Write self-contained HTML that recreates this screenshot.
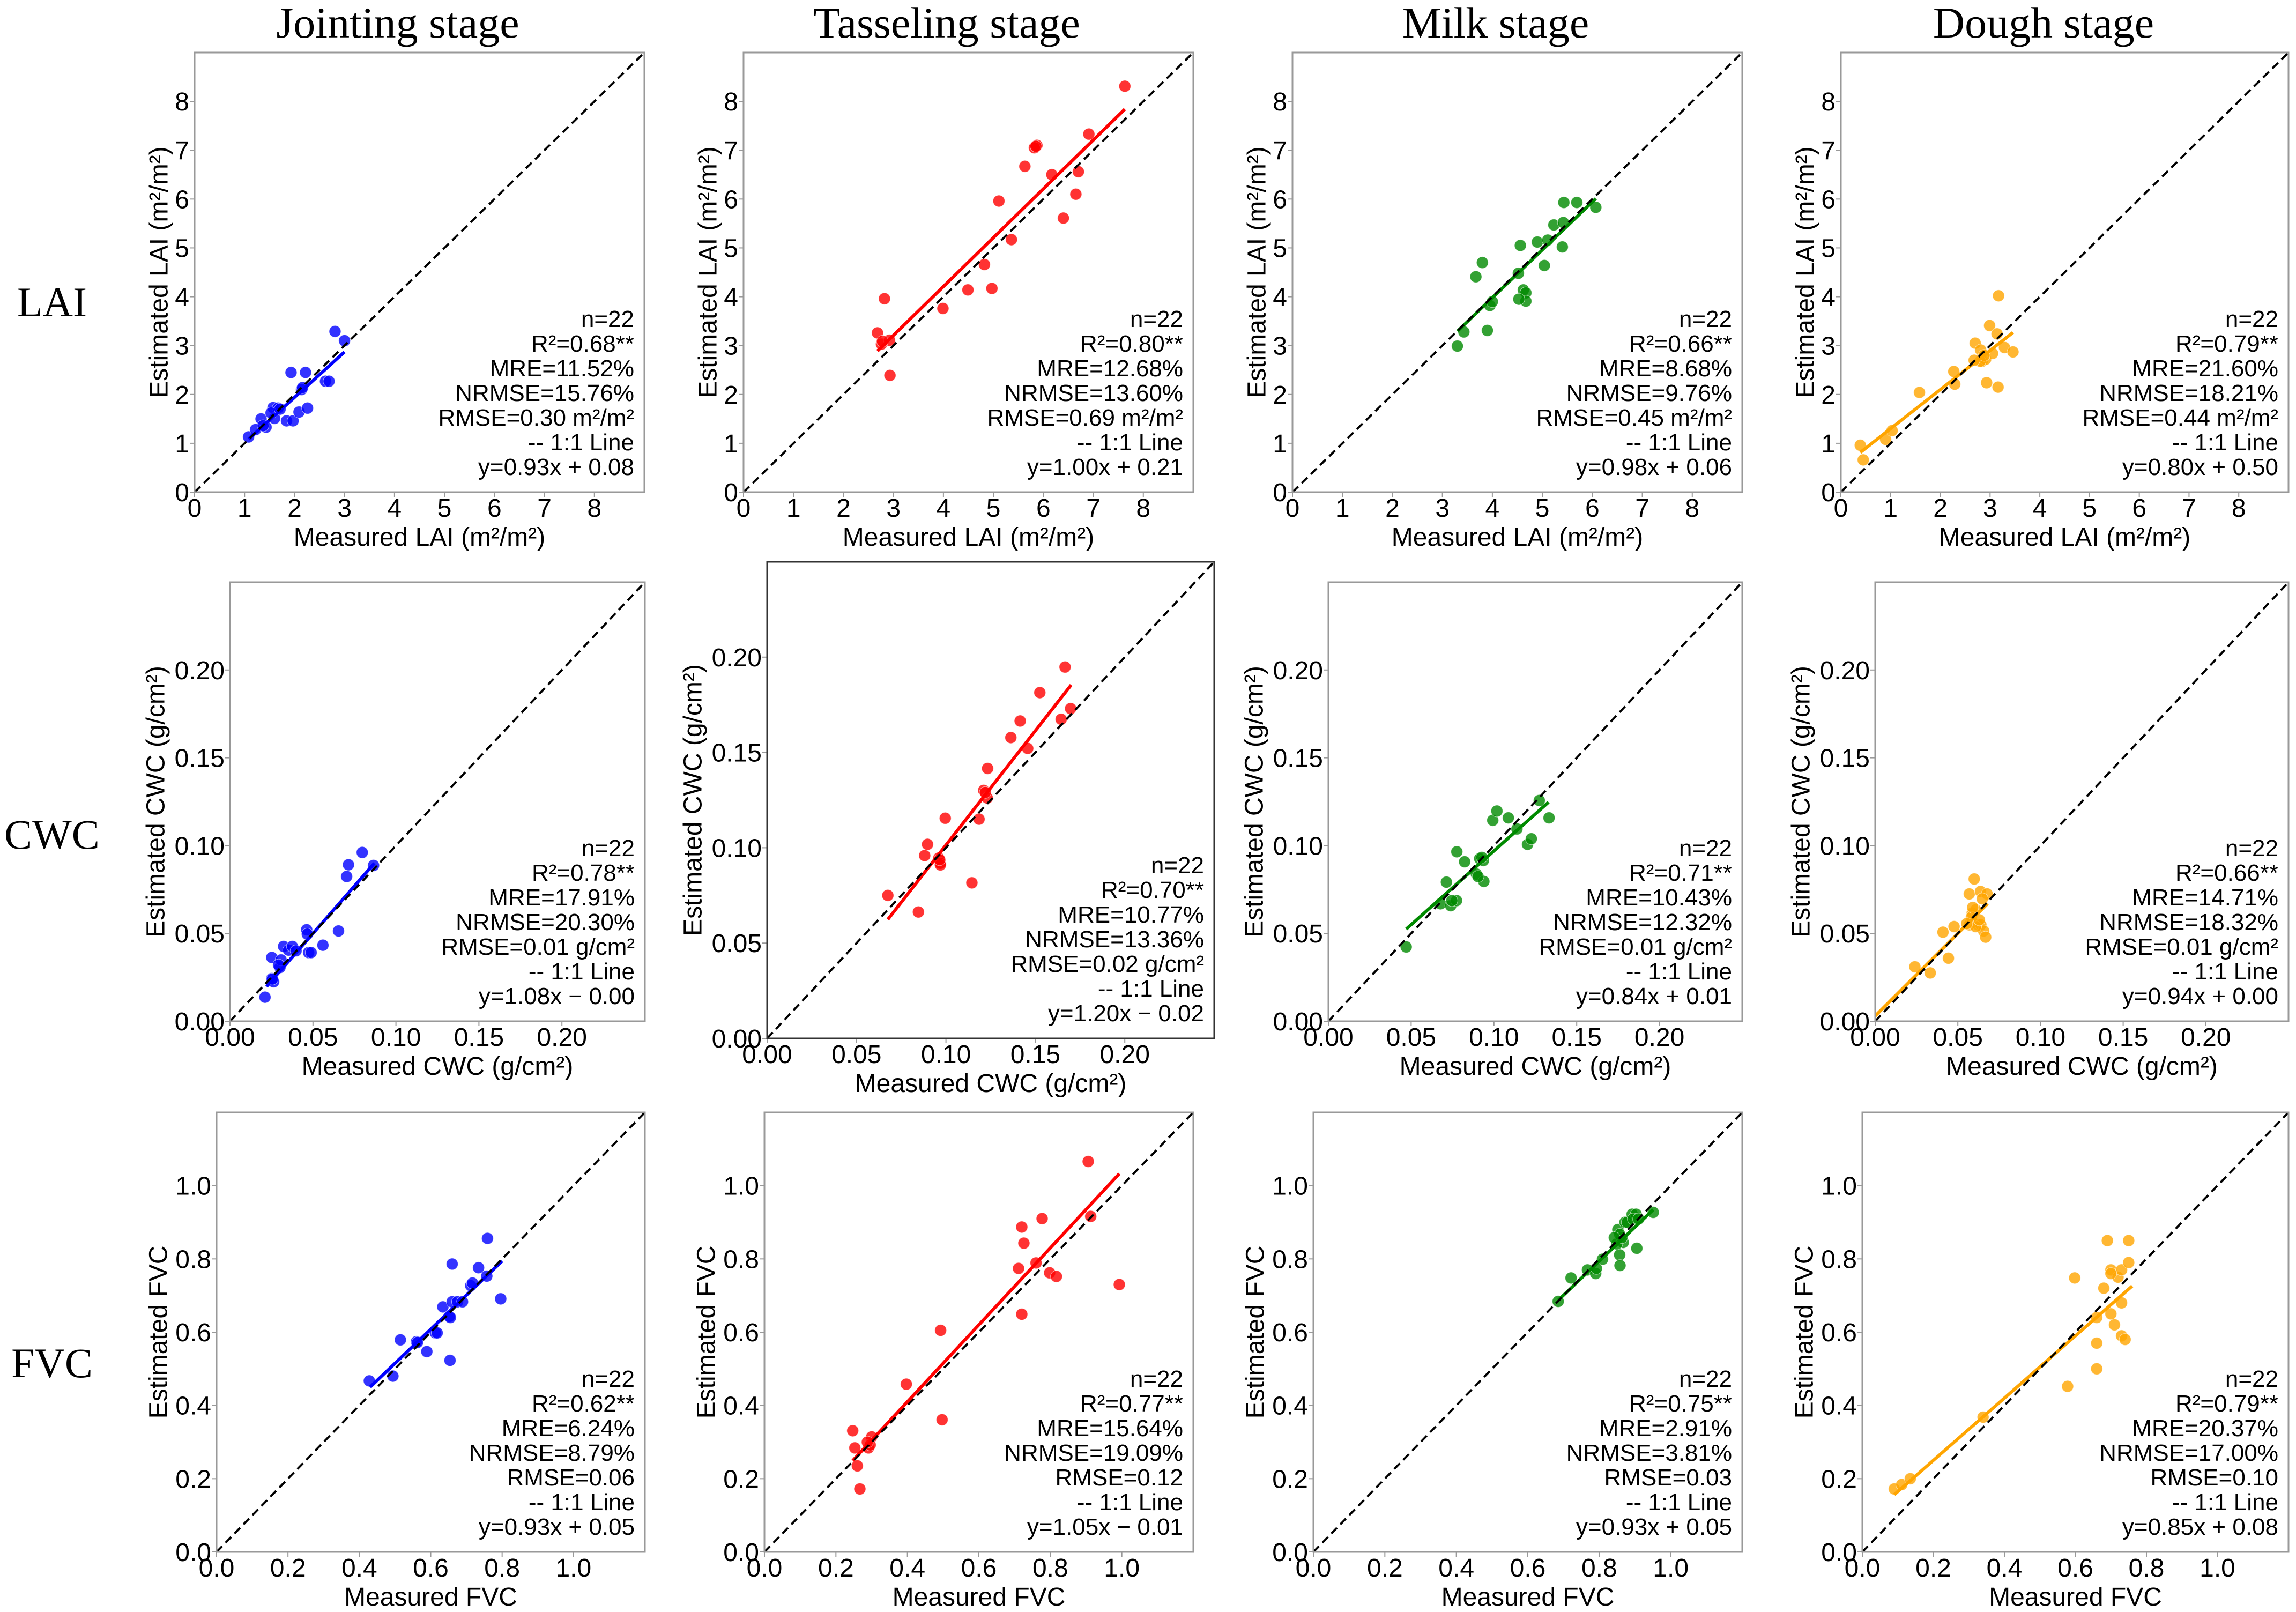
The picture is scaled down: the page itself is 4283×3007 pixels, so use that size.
<!DOCTYPE html>
<html><head><meta charset="utf-8"><title>Estimated vs measured LAI, CWC, FVC</title>
<style>
html,body{margin:0;padding:0;background:#fff;}
svg{display:block;font-family:"Liberation Sans",Arial,sans-serif;}
.serif{font-family:"Liberation Serif","Times New Roman",serif;}
</style></head>
<body>
<svg id="fig" xmlns="http://www.w3.org/2000/svg" width="4283" height="3007" viewBox="0 0 4283 3007">
<rect x="0" y="0" width="4283" height="3007" fill="#fff"/>
<text class="serif" x="742" y="70" font-size="82" text-anchor="middle">Jointing stage</text>
<text class="serif" x="1766" y="70" font-size="82" text-anchor="middle">Tasseling stage</text>
<text class="serif" x="2790" y="70" font-size="82" text-anchor="middle">Milk stage</text>
<text class="serif" x="3812" y="70" font-size="82" text-anchor="middle">Dough stage</text>
<text class="serif" x="97" y="590" font-size="78" text-anchor="middle">LAI</text>
<text class="serif" x="97" y="1583" font-size="78" text-anchor="middle">CWC</text>
<text class="serif" x="97" y="2569" font-size="78" text-anchor="middle">FVC</text>
</svg>
<script>
// ---- data: LAI ----
const lai_j_x = [1.08,1.22,1.33,1.43,1.57,1.67,1.60,1.53,1.84,1.97,1.93,2.22,2.09,2.26,2.14,2.16,2.62,2.69,2.81,3.00,1.37,1.71];
const lai_j_y = [1.13,1.28,1.50,1.33,1.73,1.72,1.51,1.62,1.46,1.46,2.45,2.45,1.64,1.72,2.10,2.14,2.27,2.27,3.29,3.10,1.36,1.70];
const lai_t_x = [7.63,6.91,5.87,5.82,5.63,6.17,6.70,6.65,5.11,6.40,5.36,4.82,4.49,4.97,3.99,2.82,2.68,2.76,2.92,2.93,2.78,5.85];
const lai_t_y = [8.31,7.33,7.10,7.05,6.67,6.50,6.56,6.10,5.96,5.61,5.17,4.66,4.14,4.17,3.76,3.96,3.26,3.03,3.11,2.39,3.09,7.08];
const lai_m_x = [3.30,3.43,3.90,3.95,4.00,3.67,3.80,4.52,4.62,4.67,4.67,4.56,4.90,5.04,5.40,5.23,5.42,5.43,5.69,6.07,4.53,5.11];
const lai_m_y = [2.99,3.28,3.31,3.82,3.90,4.41,4.70,4.48,4.14,4.08,3.91,5.05,5.12,4.64,5.02,5.47,5.52,5.93,5.93,5.83,3.95,5.16];
const lai_d_x = [0.39,0.45,0.90,1.03,1.58,2.27,2.29,2.70,2.81,2.84,2.91,2.99,3.05,2.93,3.16,3.14,3.17,3.29,3.46,2.80,2.88,2.68];
const lai_d_y = [0.96,0.66,1.08,1.26,2.04,2.47,2.21,3.05,2.91,2.68,2.72,3.41,2.84,2.24,2.15,3.24,4.02,2.96,2.87,2.68,2.80,2.70];
// ---- data: CWC ----
const cwc_j_x = [0.0211,0.0252,0.0263,0.0252,0.0301,0.0308,0.0323,0.0353,0.0376,0.0398,0.0462,0.0466,0.0474,0.0489,0.0560,0.0654,0.0703,0.0714,0.0797,0.0865,0.0293,0.0255];
const cwc_j_y = [0.0137,0.0243,0.0225,0.0363,0.0306,0.0349,0.0426,0.0405,0.0426,0.0401,0.0521,0.0496,0.0391,0.0391,0.0433,0.0514,0.0824,0.0891,0.0961,0.0887,0.0320,0.0240];
const cwc_t_x = [0.0675,0.0846,0.0881,0.0897,0.0960,0.0969,0.0969,0.0996,0.1145,0.1185,0.1211,0.1231,0.1233,0.1363,0.1415,0.1457,0.1525,0.1644,0.1666,0.1697,0.0965,0.1220];
const cwc_t_y = [0.0750,0.0663,0.0959,0.1018,0.0946,0.0919,0.0910,0.1155,0.0816,0.1150,0.1301,0.1261,0.1416,0.1578,0.1665,0.1521,0.1814,0.1674,0.1948,0.1730,0.0937,0.1290];
const cwc_m_x = [0.0470,0.0677,0.0739,0.0774,0.0713,0.0776,0.0823,0.0894,0.0914,0.0936,0.0939,0.0904,0.0993,0.1018,0.1087,0.1139,0.1203,0.1226,0.1274,0.1333,0.0927,0.0746];
const cwc_m_y = [0.0423,0.0669,0.0658,0.0687,0.0792,0.0965,0.0908,0.0838,0.0926,0.0915,0.0796,0.0824,0.1144,0.1197,0.1158,0.1095,0.1007,0.1039,0.1257,0.1158,0.0933,0.0687];
const cwc_d_x = [0.0240,0.0333,0.0410,0.0443,0.0477,0.0569,0.0599,0.0569,0.0587,0.0608,0.0637,0.0677,0.0648,0.0622,0.0639,0.0656,0.0668,0.0608,0.0582,0.0590,0.0630,0.0554];
const cwc_d_y = [0.0310,0.0275,0.0507,0.0359,0.0539,0.0725,0.0810,0.0549,0.0616,0.0634,0.0739,0.0725,0.0697,0.0549,0.0549,0.0514,0.0479,0.0539,0.0592,0.0648,0.0577,0.0556];
// ---- data: FVC ----
const fvc_j_x = [0.428,0.494,0.515,0.560,0.589,0.613,0.618,0.634,0.652,0.654,0.660,0.660,0.675,0.689,0.712,0.717,0.734,0.757,0.759,0.796,0.563,0.655];
const fvc_j_y = [0.467,0.480,0.579,0.574,0.547,0.598,0.598,0.669,0.643,0.523,0.786,0.683,0.683,0.683,0.727,0.734,0.776,0.753,0.856,0.691,0.572,0.640];
const fvc_t_x = [0.247,0.260,0.267,0.291,0.300,0.397,0.493,0.497,0.711,0.720,0.726,0.720,0.760,0.777,0.798,0.817,0.906,0.913,0.993,0.296,0.253,0.288];
const fvc_t_y = [0.331,0.235,0.172,0.284,0.314,0.458,0.605,0.361,0.774,0.887,0.843,0.649,0.789,0.910,0.762,0.752,1.066,0.916,0.730,0.292,0.284,0.300];
const fvc_m_x = [0.685,0.721,0.767,0.790,0.809,0.852,0.857,0.858,0.867,0.849,0.872,0.878,0.892,0.903,0.905,0.951,0.863,0.895,0.792,0.857,0.910,0.842];
const fvc_m_y = [0.684,0.748,0.770,0.760,0.799,0.880,0.811,0.782,0.845,0.841,0.900,0.900,0.922,0.922,0.829,0.927,0.858,0.909,0.774,0.867,0.909,0.858];
const fvc_d_x = [0.090,0.111,0.135,0.340,0.578,0.598,0.660,0.660,0.690,0.700,0.700,0.720,0.730,0.730,0.730,0.750,0.750,0.740,0.700,0.680,0.710,0.660];
const fvc_d_y = [0.172,0.184,0.200,0.368,0.452,0.748,0.500,0.640,0.850,0.650,0.770,0.750,0.680,0.590,0.770,0.850,0.790,0.580,0.760,0.720,0.620,0.570];
// ---- regression fits (slope, intercept) and fitted x-ranges ----
const lai_fit_slope = [0.93,1.00,0.98,0.80];
const lai_fit_icept = [0.08,0.21,0.06,0.50];
const lai_fit_range = [[1.08,3.00],[2.68,7.63],[3.30,6.07],[0.39,3.46]];
const cwc_fit_slope = [1.08,1.20,0.84,0.94];
const cwc_fit_icept = [-0.004,-0.0186,0.013,0.003];
const cwc_fit_range = [[0.022,0.087],[0.0675,0.170],[0.047,0.133],[0.0,0.068]];
const fvc_fit_slope = [0.93,1.05,0.93,0.85];
const fvc_fit_icept = [0.05,-0.01,0.05,0.08];
const fvc_fit_range = [[0.43,0.80],[0.247,0.993],[0.685,0.951],[0.09,0.76]];
// ---- axis ticks ----
const lai_ticks = [0,1,2,3,4,5,6,7,8];
const lai_tick_labels = ["0","1","2","3","4","5","6","7","8"];
const cwc_ticks = [0,0.05,0.10,0.15,0.20];
const cwc_tick_labels = ["0.00","0.05","0.10","0.15","0.20"];
const fvc_ticks = [0,0.2,0.4,0.6,0.8,1.0];
const fvc_tick_labels = ["0.0","0.2","0.4","0.6","0.8","1.0"];
// ---- statistics text ----
const lai_stats = [
 ["n=22","R²=0.68**","MRE=11.52%","NRMSE=15.76%","RMSE=0.30 m²/m²","-- 1:1 Line","y=0.93x + 0.08"],
 ["n=22","R²=0.80**","MRE=12.68%","NRMSE=13.60%","RMSE=0.69 m²/m²","-- 1:1 Line","y=1.00x + 0.21"],
 ["n=22","R²=0.66**","MRE=8.68%","NRMSE=9.76%","RMSE=0.45 m²/m²","-- 1:1 Line","y=0.98x + 0.06"],
 ["n=22","R²=0.79**","MRE=21.60%","NRMSE=18.21%","RMSE=0.44 m²/m²","-- 1:1 Line","y=0.80x + 0.50"]];
const cwc_stats = [
 ["n=22","R²=0.78**","MRE=17.91%","NRMSE=20.30%","RMSE=0.01 g/cm²","-- 1:1 Line","y=1.08x −  0.00"],
 ["n=22","R²=0.70**","MRE=10.77%","NRMSE=13.36%","RMSE=0.02 g/cm²","-- 1:1 Line","y=1.20x −  0.02"],
 ["n=22","R²=0.71**","MRE=10.43%","NRMSE=12.32%","RMSE=0.01 g/cm²","-- 1:1 Line","y=0.84x + 0.01"],
 ["n=22","R²=0.66**","MRE=14.71%","NRMSE=18.32%","RMSE=0.01 g/cm²","-- 1:1 Line","y=0.94x + 0.00"]];
const fvc_stats = [
 ["n=22","R²=0.62**","MRE=6.24%","NRMSE=8.79%","RMSE=0.06","-- 1:1 Line","y=0.93x + 0.05"],
 ["n=22","R²=0.77**","MRE=15.64%","NRMSE=19.09%","RMSE=0.12","-- 1:1 Line","y=1.05x −  0.01"],
 ["n=22","R²=0.75**","MRE=2.91%","NRMSE=3.81%","RMSE=0.03","-- 1:1 Line","y=0.93x + 0.05"],
 ["n=22","R²=0.79**","MRE=20.37%","NRMSE=17.00%","RMSE=0.10","-- 1:1 Line","y=0.85x + 0.08"]];

const NS = "http://www.w3.org/2000/svg";
const svg = document.getElementById("fig");
const stageColors = ["#0000ff","#ff0000","#008a00","#ffa500"];
const stageKeys = ["jointing","tasseling","milk","dough"];

function mk(tag, attrs, parent){
  const e = document.createElementNS(NS, tag);
  for (const k in attrs) e.setAttribute(k, attrs[k]);
  (parent||svg).appendChild(e);
  return e;
}

function drawPanel(p){
  const g = mk("g", {});
  
  
  const sx = v => p.L + v / p.max * (p.R - p.L);
  const sy = v => p.B - v / p.max * (p.B - p.T);
  const clipId = "clip-" + p.key;
  const cp = mk("clipPath", {id: clipId}, g);
  mk("rect", {x:p.L, y:p.T, width:p.R-p.L, height:p.B-p.T}, cp);

  // ticks
  p.ticks.forEach((t, i) => {
    const xt = mk("line", {x1:sx(t), x2:sx(t), y1:p.B, y2:p.B+9, stroke:"#999", "stroke-width":2}, g);
    
    
    const xl = mk("text", {x:sx(t), y:p.B+46, "font-size":48, "text-anchor":"middle", fill:"#000"}, g);
    
    
    xl.textContent = p.labels[i];
    const yt = mk("line", {x1:p.L-9, x2:p.L, y1:sy(t), y2:sy(t), stroke:"#999", "stroke-width":2}, g);
    
    
    const yl = mk("text", {x:p.L-10, y:sy(t)+17, "font-size":48, "text-anchor":"end", fill:"#000"}, g);
    
    
    yl.textContent = p.labels[i];
  });

  const inner = mk("g", {"clip-path":"url(#"+clipId+")"}, g);
  
  
  // points
  p.xs.forEach((xv, i) => {
    const c = mk("circle", {cx:sx(xv), cy:sy(p.ys[i]), r:11, fill:p.color, "fill-opacity":0.8, stroke:"#fff", "stroke-width":1, "stroke-opacity":0.6}, inner);
    
    
  });
  // regression line
  const x0 = p.range[0], x1 = p.range[1];
  const fl = mk("line", {x1:sx(x0), y1:sy(p.slope*x0+p.icept), x2:sx(x1), y2:sy(p.slope*x1+p.icept), stroke:p.color, "stroke-width":6}, inner);
  
  
  // 1:1 line
  const dl = mk("line", {x1:sx(0), y1:sy(0), x2:sx(p.max), y2:sy(p.max), stroke:"#000", "stroke-width":4, "stroke-dasharray":"15 9"}, inner);
  
  

  // frame
  const fr = mk("rect", {x:p.L, y:p.T, width:p.R-p.L, height:p.B-p.T, fill:"none", stroke:p.frame, "stroke-width":3}, g);
  
  

  // stats
  const n = p.stats.length;
  p.stats.forEach((s, i) => {
    const t = mk("text", {x:p.R-19, y:p.B-32-(n-1-i)*46, "font-size":44, "text-anchor":"end", fill:"#000"}, g);
    
    
    t.textContent = s;
  });

  // axis labels
  const xlab = mk("text", {x:(p.L+p.R)/2, y:p.B+100, "font-size":48, "text-anchor":"middle", fill:"#000"}, g);
  
  
  xlab.textContent = p.xlabel;
  const cy = (p.T+p.B)/2, cx = p.L - p.yoff;
  const ylab = mk("text", {x:cx, y:cy, "font-size":48, "text-anchor":"middle", "dominant-baseline":"central", transform:"rotate(-90 "+cx+" "+cy+")", fill:"#000"}, g);
  
  
  ylab.textContent = p.ylabel;
}

// layout (pixel boxes)
const layout = {
  lai: [[363,1202,98,918],[1387,2226,98,918],[2411,3250,98,918],[3434,4269,98,918]],
  cwc: [[429,1203,1086,1905],[1431,2265,1048,1937],[2478,3250,1086,1905],[3498,4269,1086,1905]],
  fvc: [[404,1203,2075,2895],[1426,2226,2075,2895],[2450,3250,2075,2895],[3474,4269,2075,2895]]
};
const laiX = [lai_j_x, lai_t_x, lai_m_x, lai_d_x], laiY = [lai_j_y, lai_t_y, lai_m_y, lai_d_y];
const cwcX = [cwc_j_x, cwc_t_x, cwc_m_x, cwc_d_x], cwcY = [cwc_j_y, cwc_t_y, cwc_m_y, cwc_d_y];
const fvcX = [fvc_j_x, fvc_t_x, fvc_m_x, fvc_d_x], fvcY = [fvc_j_y, fvc_t_y, fvc_m_y, fvc_d_y];

const vars = [
  {name:"lai", max:9, ticks:lai_ticks, labels:lai_tick_labels, X:laiX, Y:laiY, slope:lai_fit_slope, icept:lai_fit_icept, range:lai_fit_range, stats:lai_stats, xlabel:"Measured LAI (m²/m²)", ylabel:"Estimated LAI (m²/m²)", yoff:66},
  {name:"cwc", max:0.25, ticks:cwc_ticks, labels:cwc_tick_labels, X:cwcX, Y:cwcY, slope:cwc_fit_slope, icept:cwc_fit_icept, range:cwc_fit_range, stats:cwc_stats, xlabel:"Measured CWC (g/cm²)", ylabel:"Estimated CWC (g/cm²)", yoff:138},
  {name:"fvc", max:1.2, ticks:fvc_ticks, labels:fvc_tick_labels, X:fvcX, Y:fvcY, slope:fvc_fit_slope, icept:fvc_fit_icept, range:fvc_fit_range, stats:fvc_stats, xlabel:"Measured FVC", ylabel:"Estimated FVC", yoff:108}
];

vars.forEach(v => {
  for (let i = 0; i < 4; i++){
    const b = layout[v.name][i];
    drawPanel({
      key: v.name + "-" + stageKeys[i],
      L:b[0], R:b[1], T:b[2], B:b[3], max:v.max,
      ticks:v.ticks, labels:v.labels,
      xs:v.X[i], ys:v.Y[i], color:stageColors[i],
      slope:v.slope[i], icept:v.icept[i], range:v.range[i],
      stats:v.stats[i], xlabel:v.xlabel, ylabel:v.ylabel, yoff:v.yoff,
      frame:(v.name==="cwc" && i===1) ? "#333" : "#999"
    });
  }
});
</script>
</body></html>
